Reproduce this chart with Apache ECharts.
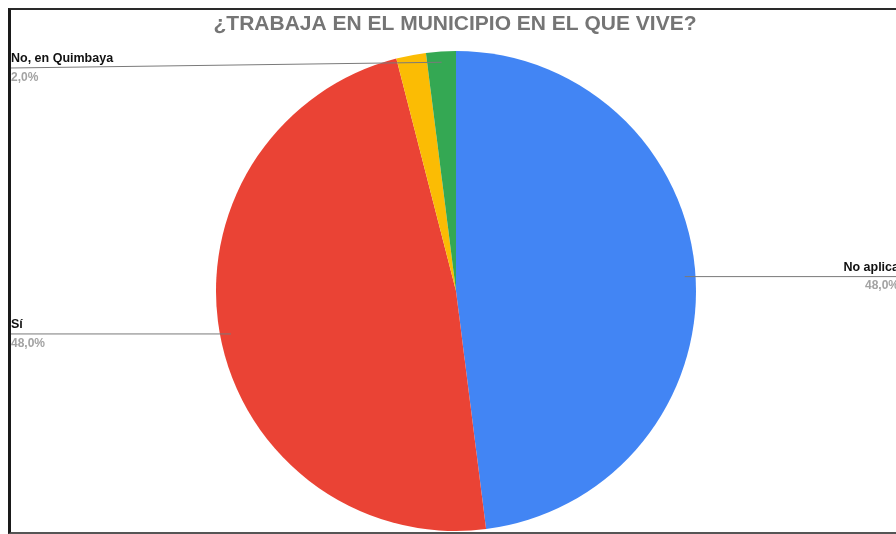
<!DOCTYPE html>
<html>
<head>
<meta charset="utf-8">
<script src="https://cdn.jsdelivr.net/npm/echarts@6/dist/echarts.min.js"></script>
<style>
html,body{margin:0;padding:0;width:896px;height:534px;overflow:hidden;background:#fff;}
#c{position:absolute;left:0;top:0;width:910px;height:534px;}
#frame{position:absolute;left:8px;top:8px;width:900px;height:522px;border-left:3px solid #1a1a1a;border-top:2px solid #2a2a2a;border-bottom:2px solid #555;pointer-events:none;}
</style>
</head>
<body>
<div id="c"></div>
<div id="frame"></div>
<script>
const titleText = '¿TRABAJA EN EL MUNICIPIO EN EL QUE VIVE?';
const categories = ['No aplica', 'Sí', 'No, en otro municipio', 'No, en Quimbaya'];
const values = [48, 48, 2, 2];
const colors = ['#4285F4', '#EA4335', '#FBBC04', '#34A853'];
const hiddenLabels = ['No, en otro municipio'];

const center = [456, 291];
const radius = 240;
const font = 'Liberation Sans, Arial, sans-serif';

const chart = echarts.init(document.getElementById('c'), null, {renderer: 'canvas'});

const mainData = categories.map((name, i) => ({name: name, value: values[i], itemStyle: {color: colors[i]}}));

const labelData = categories.map((name, i) => {
  const d = {name: name, value: values[i], itemStyle: {color: 'rgba(0,0,0,0)'}};
  if (hiddenLabels.indexOf(name) >= 0) {
    d.label = {show: false};
    d.labelLine = {show: false};
  }
  return d;
});

chart.setOption({
  animation: false,
  title: {
    text: titleText,
    left: 'center',
    top: 9,
    textStyle: {fontFamily: font, fontSize: 21, fontWeight: 'bold', color: '#757575'}
  },
  series: [{
    type: 'pie',
    z: 1,
    center: center,
    radius: radius,
    startAngle: 90,
    clockwise: true,
    silent: true,
    data: mainData,
    itemStyle: {borderWidth: 0},
    label: {show: false},
    labelLine: {show: false}
  }, {
    type: 'pie',
    z: 5,
    center: center,
    radius: radius,
    startAngle: 90,
    clockwise: true,
    silent: true,
    avoidLabelOverlap: false,
    data: labelData,
    itemStyle: {borderWidth: 0},
    label: {
      show: true,
      alignTo: 'edge',
      edgeDistance: 11,
      formatter: function (p) {
        return '{n|' + p.name + '}\n{p|' + p.percent.toFixed(1).replace('.', ',') + '%}';
      },
      rich: {
        n: {fontFamily: font, fontSize: 12.5, fontWeight: 'bold', color: '#111', lineHeight: 19},
        p: {fontFamily: font, fontSize: 12, fontWeight: 'bold', color: '#a3a3a3', lineHeight: 19}
      }
    },
    labelLine: {
      show: true,
      length: 0,
      length2: 10,
      lineStyle: {color: '#7a7a7a', width: 1}
    },
    labelLayout: function (params) {
      const pts = params.labelLinePoints;
      if (!pts || !pts.length) return {};
      const p0 = pts[0];
      const sx = center[0] + (p0[0] - center[0]) * 0.955;
      const sy = center[1] + (p0[1] - center[1]) * 0.955;
      const ly = Math.max(sy, 68);
      const r = params.labelRect;
      const left = sx < center[0];
      const ex = left ? r.x - 1 : r.x + r.width + 1;
      return {
        y: ly,
        labelLinePoints: [[sx, sy], [ex, ly]]
      };
    }
  }]
});
</script>
</body>
</html>
